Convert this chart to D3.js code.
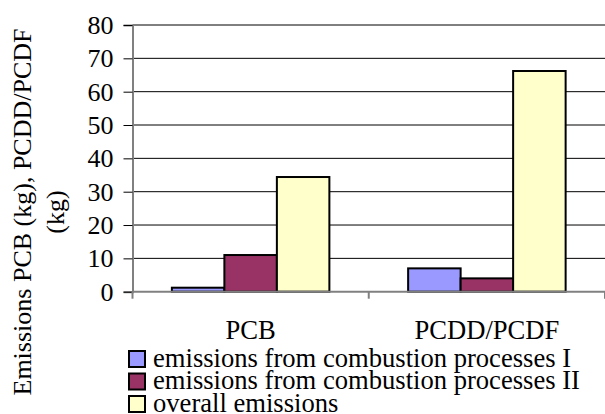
<!DOCTYPE html>
<html>
<head>
<meta charset="utf-8">
<script src="https://cdn.jsdelivr.net/npm/d3@7"></script>
<style>
  html, body { margin: 0; padding: 0; background: #fff; }
  svg { display: block; }
  text { font-family: "Liberation Serif", "Times New Roman", serif; fill: #000; }
</style>
</head>
<body>
<svg id="chart" width="605" height="414"></svg>
<script>
// Emission totals per compound group (kg)
const categories = ["PCB", "PCDD/PCDF"];
const seriesNames = [
  "emissions from combustion processes I",
  "emissions from combustion processes II",
  "overall emissions"
];
const combustionI = [1.2, 7.0];
const combustionII = [11.0, 4.0];
const overall = [34.4, 66.2];
const yTicks = [0, 10, 20, 30, 40, 50, 60, 70, 80];
const colors = ["#9999FF", "#993366", "#FFFFCC"];

const seriesValues = [combustionI, combustionII, overall];

const svg = d3.select("#chart");
const plot = { left: 132.5, right: 605, top: 25, bottom: 291.7 };
const fontSize = 26;
const labelSize = 26.6;

const x0 = d3.scaleBand().domain(categories).range([plot.left, plot.right]).padding(0);
const bw = x0.bandwidth();
const barW = bw / 4.5;               // three bars plus a 150% gap
const gap = (bw - 3 * barW) / 2;
const x1 = d3.scaleBand().domain(seriesNames).range([gap, gap + 3 * barW]).padding(0);
const y = d3.scaleLinear().domain([0, 80]).range([plot.bottom, plot.top]);

// horizontal gridlines
svg.append("g")
  .selectAll("line")
  .data(yTicks.filter(t => t > 0))
  .join("line")
  .attr("x1", plot.left).attr("x2", plot.right)
  .attr("y1", d => y(d)).attr("y2", d => y(d))
  .attr("stroke", "#000").attr("stroke-width", 1);

// bars
const groups = svg.append("g")
  .selectAll("g")
  .data(categories)
  .join("g")
  .attr("transform", d => `translate(${x0(d)},0)`);

groups.selectAll("rect")
  .data((c, ci) => seriesNames.map((s, si) => ({ s, si, v: seriesValues[si][ci] })))
  .join("rect")
  .attr("x", d => x1(d.s))
  .attr("width", x1.bandwidth())
  .attr("y", d => y(d.v))
  .attr("height", d => y(0) - y(d.v))
  .attr("fill", d => colors[d.si])
  .attr("stroke", "#000")
  .attr("stroke-width", 2);

// y axis
const yAxis = d3.axisLeft(y).tickValues(yTicks).tickSize(9).tickPadding(10).tickFormat(d3.format("d"));
const gy = svg.append("g").attr("transform", `translate(${plot.left},0)`).call(yAxis);
gy.select(".domain").attr("stroke", "#808080").attr("stroke-width", 2);
gy.selectAll(".tick line").attr("stroke", "#000").attr("stroke-width", 1);
gy.selectAll(".tick text")
  .attr("font-size", fontSize)
  .attr("dy", "0.33em");

// x axis with ticks at band boundaries
const gx = svg.append("g").attr("transform", `translate(0,${plot.bottom})`);
gx.append("line")
  .attr("x1", plot.left).attr("x2", plot.right)
  .attr("stroke", "#808080").attr("stroke-width", 2);
const boundaries = categories.map(c => x0(c)).concat([plot.right]);
gx.selectAll("line.tk")
  .data(boundaries)
  .join("line")
  .attr("class", "tk")
  .attr("x1", d => d).attr("x2", d => d)
  .attr("y1", 0).attr("y2", 7)
  .attr("stroke", "#808080").attr("stroke-width", 2);
gx.selectAll("text")
  .data(categories)
  .join("text")
  .attr("x", d => x0(d) + bw / 2)
  .attr("y", 339 - plot.bottom)
  .attr("text-anchor", "middle")
  .attr("font-size", labelSize)
  .text(d => d);

// y axis title
const titleY = 212;
const title = svg.append("text")
  .attr("transform", `translate(31,${titleY}) rotate(-90)`)
  .attr("text-anchor", "middle")
  .attr("font-size", fontSize);
title.append("tspan").attr("x", 0).attr("y", 0).text("Emissions PCB (kg), PCDD/PCDF");
title.append("tspan").attr("x", 0).attr("y", 33).text("(kg)");

// legend
const legend = svg.append("g");
const rows = legend.selectAll("g")
  .data(seriesNames)
  .join("g")
  .attr("transform", (d, i) => `translate(0,${i * 22.5})`);
rows.append("rect")
  .attr("x", 129).attr("y", 351)
  .attr("width", 16).attr("height", 16)
  .attr("fill", (d, i) => colors[i])
  .attr("stroke", "#000").attr("stroke-width", 2);
rows.append("text")
  .attr("x", 153).attr("y", 366.5)
  .attr("font-size", labelSize)
  .text(d => d);
</script>
</body>
</html>
